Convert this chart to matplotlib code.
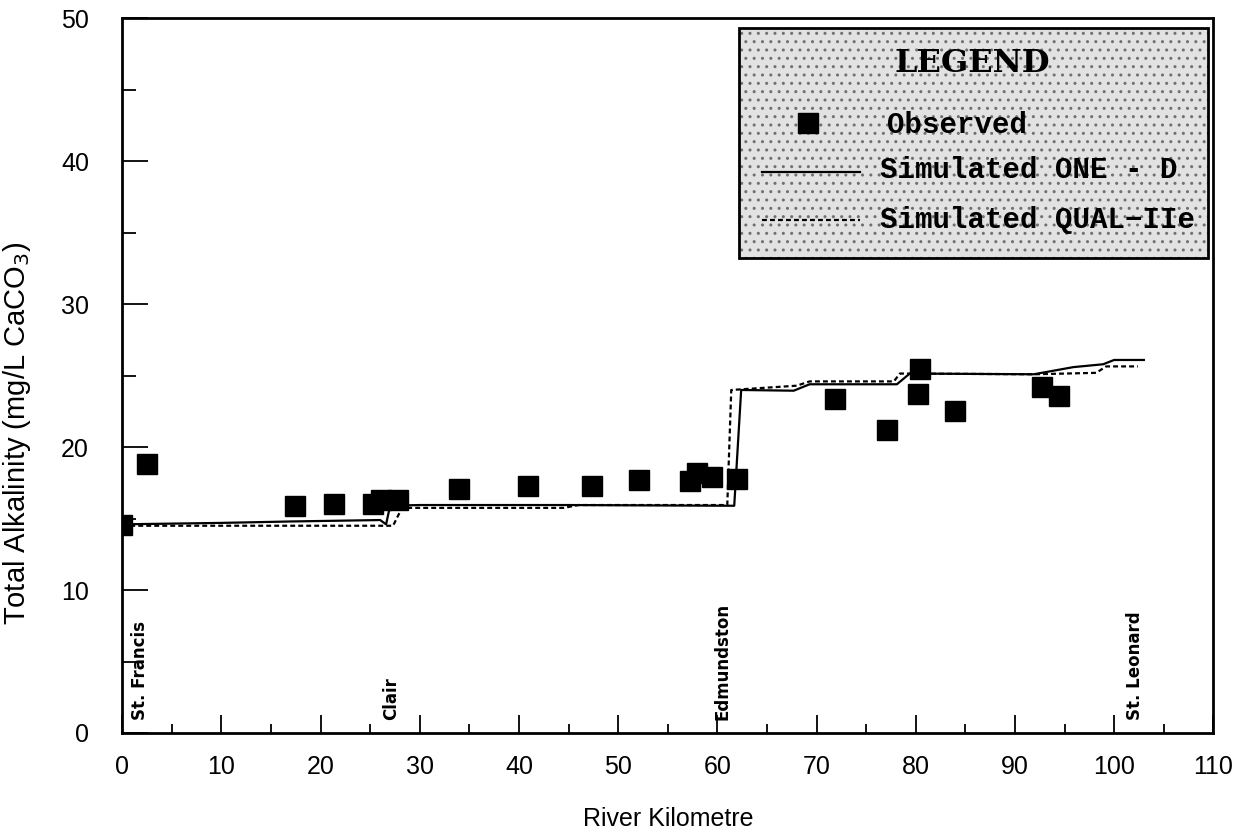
import numpy as np
import matplotlib
matplotlib.use('Agg')
import matplotlib.pyplot as plt
from matplotlib.patches import Rectangle
from matplotlib.lines import Line2D

# observed total alkalinity
obs_km=[0, 2.5, 17.4, 21.35, 25.3, 26.1, 27.8, 33.9, 40.9, 47.4, 52.1, 57.2, 57.9, 59.5, 62.0,
        71.9, 77.1, 80.2, 80.4, 84.0, 92.7, 94.4]
obs_val=[14.55, 18.8, 15.9, 16.0, 16.0, 16.3, 16.3, 17.1, 17.3, 17.3, 17.7, 17.6, 18.2, 17.9, 17.8,
         23.4, 21.2, 23.7, 25.5, 22.5, 24.2, 23.6]

# simulated ONE - D
oned_km=[0, 10, 17, 26, 26.6, 27.0, 30, 45, 61.5, 61.7, 62.4, 67.7, 69.3, 78.1, 79.4, 91.9, 95.9, 98.9, 100.0, 103.0]
oned_val=[14.6, 14.7, 14.8, 14.9, 14.6, 15.9, 15.95, 15.95, 15.9, 15.9, 24.0, 23.95, 24.4, 24.4, 25.15, 25.1, 25.6, 25.8, 26.1, 26.1]

# simulated QUAL-IIe
qual_km=[0, 17, 27.3, 28.2, 44.5, 46, 61.0, 61.4, 68.0, 69.3, 77.8, 78.4, 92.0, 98.2, 99.2, 102.4]
qual_val=[14.5, 14.5, 14.5, 15.75, 15.75, 15.95, 15.95, 24.0, 24.3, 24.6, 24.6, 25.15, 25.1, 25.2, 25.65, 25.65]

# towns along the river
town_names=['St. Francis', 'Clair', 'Edmundston', 'St. Leonard']
town_km=[1.75, 27.1, 60.5, 102.1]

xticks=np.arange(0, 111, 10)
yticks=np.arange(0, 51, 10)

plt.rcParams['font.family']=['Liberation Sans', 'DejaVu Sans']

fig=plt.figure(figsize=(12.49, 8.32), dpi=100)
ax=fig.add_axes([0.0979, 0.119, 0.8735, 0.8589])

ax.plot(oned_km, oned_val, color='black', lw=1.6, ls='-')
ax.plot(qual_km, qual_val, color='black', lw=1.6, ls=(0, (2.2, 1.4)))
ax.plot(obs_km, obs_val, ls='none', marker='s', markersize=14, color='black')

for name, km in zip(town_names, town_km):
    ax.text(km, 0.9, name, rotation=90, ha='center', va='bottom', fontsize=12,
            family=['Liberation Sans Narrow', 'DejaVu Sans'], weight='bold')

ax.set_xlim(0, 110)
ax.set_ylim(0, 50)
ax.set_xticks(xticks)
ax.set_yticks(yticks)
ax.set_xticks(np.arange(5, 110, 10), minor=True)
ax.set_yticks(np.arange(5, 50, 10), minor=True)
ax.tick_params(axis='x', which='major', direction='in', length=13, width=1.3, pad=16, labelsize=18)
ax.tick_params(axis='x', which='minor', direction='in', length=6.5, width=1.3)
ax.tick_params(axis='y', which='major', direction='in', length=19, width=1.3, pad=24, labelsize=18)
ax.tick_params(axis='y', which='minor', direction='in', length=10, width=1.3)
for s in ax.spines.values():
    s.set_linewidth(2)

ax.set_xlabel('River Kilometre', fontsize=18, labelpad=20)
ax.set_ylabel('Total Alkalinity (mg/L CaCO$_3$)', fontsize=21, labelpad=12)
ax.yaxis.set_label_coords(-0.082, 0.42)

# legend box drawn by hand
ax.add_patch(Rectangle((0.5657, 0.6644), 0.4299, 0.3219, transform=ax.transAxes,
                       facecolor='#e2e2e2', edgecolor='#707070', hatch='..', lw=0, zorder=5))
ax.add_patch(Rectangle((0.5657, 0.6644), 0.4299, 0.3219, transform=ax.transAxes,
                       facecolor='none', edgecolor='black', lw=2, zorder=6))
ax.text(0.7788, 0.9373, 'LEGEND', transform=ax.transAxes, ha='center', va='center',
        fontsize=23, family='DejaVu Serif', weight='bold', zorder=7)
ax.add_line(Line2D([0.6285], [0.8537], transform=ax.transAxes, marker='s', markersize=14,
                   color='black', ls='none', zorder=7))
ax.add_line(Line2D([0.5861, 0.6761], [0.7856, 0.7856], transform=ax.transAxes,
                   color='black', lw=1.6, zorder=7))
ax.add_line(Line2D([0.5861, 0.6761], [0.718, 0.718], transform=ax.transAxes,
                   color='black', lw=1.6, ls=(0, (2.2, 1.4)), zorder=7))
leg_font=dict(fontsize=21, family='Liberation Mono', weight='bold', va='center', ha='left', zorder=7)
ax.text(0.7006, 0.851, 'Observed', transform=ax.transAxes, **leg_font)
ax.text(0.6945, 0.788, 'Simulated ONE - D', transform=ax.transAxes, **leg_font)
ax.text(0.6945, 0.718, 'Simulated QUAL\u2212IIe', transform=ax.transAxes, **leg_font)

fig.savefig('out.png', dpi=100)
